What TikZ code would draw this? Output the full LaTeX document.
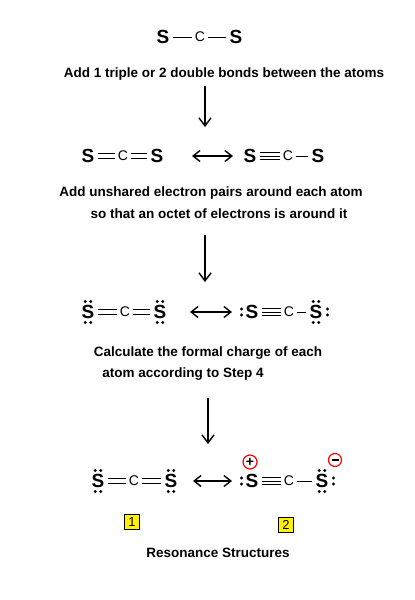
\documentclass[tikz,border=0pt]{standalone}
\usepackage{fontspec}
\setmainfont{Liberation Sans}
\usetikzlibrary{arrows.meta}
\begin{document}
\begin{tikzpicture}[x=1pt,y=-1pt,
 S/.style={font=\fontsize{19}{19}\selectfont\bfseries,inner sep=0pt},
 C/.style={font=\fontsize{14}{14}\selectfont,inner sep=0pt},
 txt/.style={font=\fontsize{13.5}{16}\selectfont\bfseries,inner sep=0pt},
 bond/.style={line width=1pt},
 varr/.style={->,>={Straight Barb[length=8pt,width=12pt]},line width=1.4pt},
 harr/.style={<->,>={Straight Barb[length=7pt,width=11pt]},line width=1.4pt},
 num/.style={draw=black,fill=yellow,font=\fontsize{13}{13}\selectfont,inner sep=1.5pt,minimum size=15pt}]
\useasboundingbox (0,0) rectangle (415,600);
\newcommand{\bsingle}[2]{\draw[bond] ([xshift=3pt]#1.east) -- ([xshift=-3pt]#2.west);}
\newcommand{\bdouble}[2]{\draw[bond] ([xshift=3pt,yshift=-2.3pt]#1.east) -- ([xshift=-3pt,yshift=-2.3pt]#2.west);\draw[bond] ([xshift=3pt,yshift=2.3pt]#1.east) -- ([xshift=-3pt,yshift=2.3pt]#2.west);}
\newcommand{\btriple}[2]{\foreach \d in {-3.3,0,3.3}{\draw[bond] ([xshift=3pt,yshift=\d pt]#1.east) -- ([xshift=-3pt,yshift=\d pt]#2.west);}}
\newcommand{\tb}[1]{\foreach \dx in {-2.8,2.8}{\fill ([xshift=\dx pt,yshift=-10.5pt]#1.center) circle (1.6); \fill ([xshift=\dx pt,yshift=10.5pt]#1.center) circle (1.6);}}
\newcommand{\lp}[1]{\foreach \dy in {-3,3}{\fill ([xshift=-4pt,yshift=\dy pt]#1.west) circle (1.6);}}
\newcommand{\rp}[1]{\foreach \dy in {-3,3}{\fill ([xshift=5pt,yshift=\dy pt]#1.east) circle (1.6);}}
% row 1
\node[S] (a1) at (163,37) {S}; \node[C] (a2) at (200,37) {C}; \node[S] (a3) at (236,37) {S};
\bsingle{a1}{a2} \bsingle{a2}{a3}
\node[txt] (t1) at (224,74) {Add 1 triple or 2 double bonds between the atoms};
\coordinate (p1) at (205,86); \coordinate (q1) at (205,127);
\draw[varr] (p1) -- (q1);
% row 2
\node[S] (b1) at (88,156) {S}; \node[C] (b2) at (123,156) {C}; \node[S] (b3) at (157,156) {S};
\bdouble{b1}{b2} \bdouble{b2}{b3}
\node[S] (b4) at (250,156) {S}; \node[C] (b5) at (288,156) {C}; \node[S] (b6) at (318,156) {S};
\btriple{b4}{b5} \bsingle{b5}{b6}
\coordinate (r1) at (192,156); \coordinate (r2) at (233,156);
\draw[harr] (r1) -- (r2);
\node[txt] (t2) at (211,193) {Add unshared electron pairs around each atom};
\node[txt] (t3) at (219,214) {so that an octet of electrons is around it};
\coordinate (p2) at (205,235); \coordinate (q2) at (205,282);
\draw[varr] (p2) -- (q2);
% row 3
\node[S] (c1) at (88,312) {S}; \node[C] (c2) at (125,312) {C}; \node[S] (c3) at (160,312) {S};
\bdouble{c1}{c2} \bdouble{c2}{c3} \tb{c1} \tb{c3}
\node[S] (c4) at (252,312) {S}; \node[C] (c5) at (289,312) {C}; \node[S] (c6) at (316,312) {S};
\btriple{c4}{c5} \bsingle{c5}{c6} \lp{c4} \tb{c6} \rp{c6}
\coordinate (r3) at (190,312); \coordinate (r4) at (232,312);
\draw[harr] (r3) -- (r4);
\node[txt] (t4) at (208,353) {Calculate the formal charge of each};
\node[txt] (t5) at (183,374) {atom according to Step 4};
\coordinate (p3) at (208,398); \coordinate (q3) at (208,444);
\draw[varr] (p3) -- (q3);
% row 4
\node[S] (d1) at (98,481) {S}; \node[C] (d2) at (134,481) {C}; \node[S] (d3) at (171,481) {S};
\bdouble{d1}{d2} \bdouble{d2}{d3} \tb{d1} \tb{d3}
\node[S] (d4) at (252,481) {S}; \node[C] (d5) at (289,481) {C}; \node[S] (d6) at (322,481) {S};
\btriple{d4}{d5} \bsingle{d5}{d6} \lp{d4} \tb{d6} \rp{d6}
\coordinate (r5) at (193,481); \coordinate (r6) at (232,481);
\draw[harr] (r5) -- (r6);
\node[circle,draw=red,line width=1.2pt,minimum size=14pt,inner sep=0pt,font=\fontsize{14}{14}\selectfont\bfseries] (pl) at (250,462) {+};
\node[circle,draw=red,line width=1.2pt,minimum size=13pt,inner sep=0pt] (mi) at (335,460) {};
\draw[line width=1.8pt] ([xshift=-3.5pt]mi.center) -- ([xshift=3.5pt]mi.center);
\node[num] (n1) at (132,522) {1};
\node[num] (n2) at (286,525) {2};
\node[txt] (t6) at (218,553) {Resonance Structures};
\end{tikzpicture}
\end{document}
